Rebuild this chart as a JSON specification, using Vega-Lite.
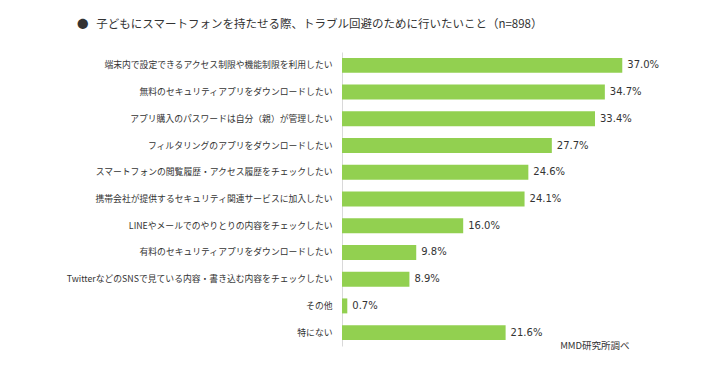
{
  "$schema": "https://vega.github.io/schema/vega-lite/v6.json",
  "width": 303,
  "height": 294,
  "autosize": {"type": "none"},
  "padding": {"left": 342, "top": 52, "right": 65, "bottom": 19},
  "background": "#ffffff",
  "title": {
    "text": "●\u00a0\u00a0\u00a0子どもにスマートフォンを持たせる際、トラブル回避のために行いたいこと（n=898）",
    "anchor": "start",
    "frame": "group",
    "dx": -265,
    "offset": 22,
    "font": "Noto Sans CJK JP",
    "fontSize": 11.5,
    "fontWeight": "normal",
    "color": "#333333"
  },
  "data": {
    "values": [
      {"item": "端末内で設定できるアクセス制限や機能制限を利用したい", "rate": 0.370},
      {"item": "無料のセキュリティアプリをダウンロードしたい", "rate": 0.347},
      {"item": "アプリ購入のパスワードは自分（親）が管理したい", "rate": 0.334},
      {"item": "フィルタリングのアプリをダウンロードしたい", "rate": 0.277},
      {"item": "スマートフォンの閲覧履歴・アクセス履歴をチェックしたい", "rate": 0.246},
      {"item": "携帯会社が提供するセキュリティ関連サービスに加入したい", "rate": 0.241},
      {"item": "LINEやメールでのやりとりの内容をチェックしたい", "rate": 0.160},
      {"item": "有料のセキュリティアプリをダウンロードしたい", "rate": 0.098},
      {"item": "TwitterなどのSNSで見ている内容・書き込む内容をチェックしたい", "rate": 0.089},
      {"item": "その他", "rate": 0.007},
      {"item": "特にない", "rate": 0.216}
    ]
  },
  "encoding": {
    "y": {
      "field": "item",
      "type": "nominal",
      "sort": null,
      "scale": {"paddingInner": 0.44, "paddingOuter": 0.22},
      "axis": {
        "title": null,
        "ticks": false,
        "domain": true,
        "domainColor": "#d9d9d9",
        "domainWidth": 1,
        "labelFont": "Noto Sans CJK JP",
        "labelFontSize": 8.8,
        "labelColor": "#333333",
        "labelPadding": 10,
        "labelLimit": 400
      }
    },
    "x": {
      "field": "rate",
      "type": "quantitative",
      "scale": {"domain": [0, 0.4], "nice": false},
      "axis": null
    }
  },
  "layer": [
    {"mark": {"type": "bar", "color": "#92d050"}},
    {
      "mark": {
        "type": "text",
        "align": "left",
        "baseline": "middle",
        "dx": 5,
        "font": "DejaVu Sans",
        "fontSize": 10,
        "color": "#333333",
        "clip": false
      },
      "encoding": {"text": {"field": "rate", "type": "quantitative", "format": ".1%"}}
    },
    {
      "data": {"values": [{"note": "MMD研究所調べ", "item": "特にない", "pos": 0.288}]},
      "mark": {
        "type": "text",
        "align": "left",
        "baseline": "middle",
        "dy": 13,
        "font": "Noto Sans CJK JP",
        "fontSize": 9.5,
        "color": "#333333"
      },
      "encoding": {
        "x": {"field": "pos", "type": "quantitative"},
        "text": {"field": "note"}
      }
    }
  ],
  "config": {"view": {"stroke": null}}
}
